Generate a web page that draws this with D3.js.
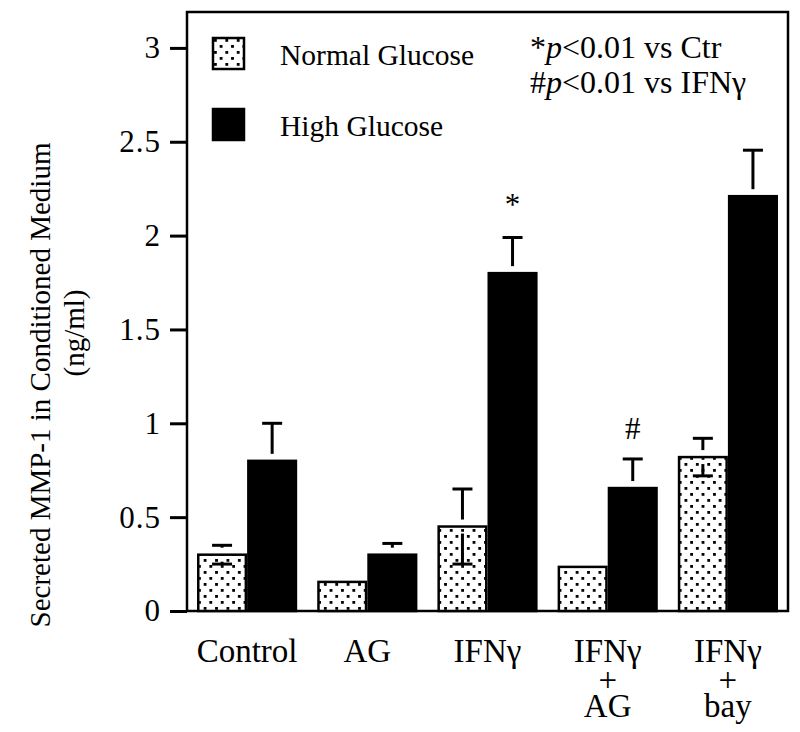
<!DOCTYPE html>
<html>
<head>
<meta charset="utf-8">
<script src="https://cdn.jsdelivr.net/npm/d3@7"></script>
<style>
  html, body { margin: 0; padding: 0; background: #fff; }
  svg { display: block; }
  text { font-family: "Liberation Serif", "Times New Roman", serif; fill: #000; }
</style>
</head>
<body>
<svg id="chart" width="800" height="732"></svg>
<script>
// ---- data ----
const categories = ["Control", "AG", "IFNγ", "IFNγ + AG", "IFNγ + bay"];
const categoryLines = [["Control"], ["AG"], ["IFNγ"], ["IFNγ", "+", "AG"], ["IFNγ", "+", "bay"]];
const seriesNames = ["Normal Glucose", "High Glucose"];
const normalValues = [0.30, 0.155, 0.45, 0.235, 0.82];
const normalErrors = [0.05, 0, 0.20, 0, 0.10];
const highValues = [0.80, 0.30, 1.80, 0.655, 2.21];
const highErrors = [0.20, 0.06, 0.19, 0.155, 0.245];
const significance = [null, null, "*", "#", null];
const yTicks = [0, 0.5, 1, 1.5, 2, 2.5, 3];
const yTickLabels = ["0", "0.5", "1", "1.5", "2", "2.5", "3"];

// ---- layout ----
const svg = d3.select("#chart");
const margin = { left: 187, top: 12, right: 12, bottom: 121 };
const W = 800 - margin.left - margin.right;   // 601
const H = 732 - margin.top - margin.bottom;   // 599

const defs = svg.append("defs");
const pat = defs.append("pattern")
  .attr("id", "dots").attr("patternUnits", "userSpaceOnUse")
  .attr("width", 11.4).attr("height", 12).attr("x", 0).attr("y", 0);
pat.append("rect").attr("width", 11.4).attr("height", 12).attr("fill", "#fff");
pat.append("rect").attr("x", 1).attr("y", 1).attr("width", 2.8).attr("height", 2.8).attr("fill", "#000");
pat.append("rect").attr("x", 6.7).attr("y", 7).attr("width", 2.8).attr("height", 2.8).attr("fill", "#000");

const g = svg.append("g").attr("transform", `translate(${margin.left},${margin.top})`);

const x0 = d3.scaleBand().domain(categories).range([0, W]).paddingInner(1/6).paddingOuter(1/12);
const x1 = d3.scaleBand().domain(seriesNames).range([0, x0.bandwidth()]);
const y = d3.scaleLinear().domain([0, 3]).range([H, H - 3 * 187.7]);

// frame
g.append("rect").attr("x", 0).attr("y", 0).attr("width", W).attr("height", H)
  .attr("fill", "none").attr("stroke", "#000").attr("stroke-width", 2.5);

// y axis
const yAxis = d3.axisLeft(y).tickValues(yTicks)
  .tickFormat((d, i) => yTickLabels[i]).tickSize(17).tickPadding(9);
const ya = g.append("g").call(yAxis);
ya.select(".domain").remove();
ya.selectAll(".tick line").attr("stroke", "#000").attr("stroke-width", 3);
ya.selectAll(".tick text").style("font-size", "31px").attr("font-family", "Liberation Serif")
  .style("letter-spacing", "1px");

// bars
const rows = categories.map((c, i) => ({
  cat: c,
  bars: [
    { s: seriesNames[0], v: normalValues[i], e: normalErrors[i] },
    { s: seriesNames[1], v: highValues[i], e: highErrors[i] }
  ],
  sig: significance[i]
}));

const grp = g.selectAll(".grp").data(rows).join("g")
  .attr("class", "grp").attr("transform", d => `translate(${x0(d.cat)},0)`);

grp.selectAll("rect.bar").data(d => d.bars).join("rect")
  .attr("class", "bar")
  .attr("x", d => x1(d.s) + 1.25)
  .attr("width", x1.bandwidth() - 2.5)
  .attr("y", d => y(d.v))
  .attr("height", d => H - y(d.v))
  .attr("fill", d => d.s === seriesNames[0] ? "url(#dots)" : "#000")
  .attr("stroke", "#000").attr("stroke-width", 2.5);

// error bars (stems start a few px away from the bar top)
const gap = 7, capW = 20;
grp.each(function (d) {
  const gg = d3.select(this);
  d.bars.forEach(b => {
    if (!b.e) return;
    const cx = x1(b.s) + x1.bandwidth() / 2;
    const yt = y(b.v);
    const yUp = y(b.v + b.e), yDn = y(b.v - b.e);
    const col = "#000";
    if (yt - yUp > gap) {
      gg.append("line").attr("x1", cx).attr("x2", cx).attr("y1", yt - gap).attr("y2", yUp)
        .attr("stroke", col).attr("stroke-width", 3);
    }
    gg.append("line").attr("x1", cx - capW / 2).attr("x2", cx + capW / 2).attr("y1", yUp).attr("y2", yUp)
      .attr("stroke", col).attr("stroke-width", 3);
    if (b.s === seriesNames[0]) {
      if (yDn - yt > gap) {
        gg.append("line").attr("x1", cx).attr("x2", cx).attr("y1", yt + gap).attr("y2", yDn)
          .attr("stroke", col).attr("stroke-width", 3);
      }
      gg.append("line").attr("x1", cx - capW / 2).attr("x2", cx + capW / 2).attr("y1", yDn).attr("y2", yDn)
        .attr("stroke", col).attr("stroke-width", 3);
    }
  });
  if (d.sig) {
    const hb = d.bars[1];
    const cx = x1(hb.s) + x1.bandwidth() / 2;
    gg.append("text").attr("x", cx).attr("y", y(hb.v + hb.e) - (d.sig === "*" ? 22 : 20))
      .attr("text-anchor", "middle").style("font-size", "31px").text(d.sig);
  }
});

// x category labels (one text per line)
const xl = g.append("g").attr("transform", `translate(0,${H})`);
const lineYs = [51, 80, 106];
categoryLines.forEach((lines, i) => {
  lines.forEach((ln, j) => {
    xl.append("text")
      .attr("x", x0(categories[i]) + x0.bandwidth() / 2)
      .attr("y", lineYs[j])
      .attr("text-anchor", "middle")
      .style("font-size", "33px")
      .text(ln);
  });
});

// y title
svg.append("text")
  .attr("transform", `translate(50,${385}) rotate(-90)`)
  .attr("text-anchor", "middle").style("font-size", "29px")
  .text("Secreted MMP-1 in Conditioned Medium");
svg.append("text")
  .attr("transform", `translate(84,${333}) rotate(-90)`)
  .attr("text-anchor", "middle").style("font-size", "29px")
  .text("(ng/ml)");

// legend
const leg = g.append("g").attr("transform", "translate(26,26)");
seriesNames.forEach((s, i) => {
  const row = leg.append("g").attr("transform", `translate(0,${i * 71})`);
  row.append("rect").attr("x", 0).attr("y", 0).attr("width", 31).attr("height", 31)
    .attr("fill", i === 0 ? "url(#dots)" : "#000").attr("stroke", "#000").attr("stroke-width", 2.5);
  row.append("text").attr("x", 67).attr("y", 27).style("font-size", "29.5px").text(s);
});

// significance note
const note = svg.append("g");
const n1 = note.append("text").attr("x", 530).attr("y", 58).style("font-size", "32px");
n1.append("tspan").text("*");
n1.append("tspan").style("font-style", "italic").text("p");
n1.append("tspan").text("<0.01 vs Ctr");
const n2 = note.append("text").attr("x", 530).attr("y", 93).style("font-size", "32px");
n2.append("tspan").text("#");
n2.append("tspan").style("font-style", "italic").text("p");
n2.append("tspan").text("<0.01 vs IFNγ");
</script>
</body>
</html>
